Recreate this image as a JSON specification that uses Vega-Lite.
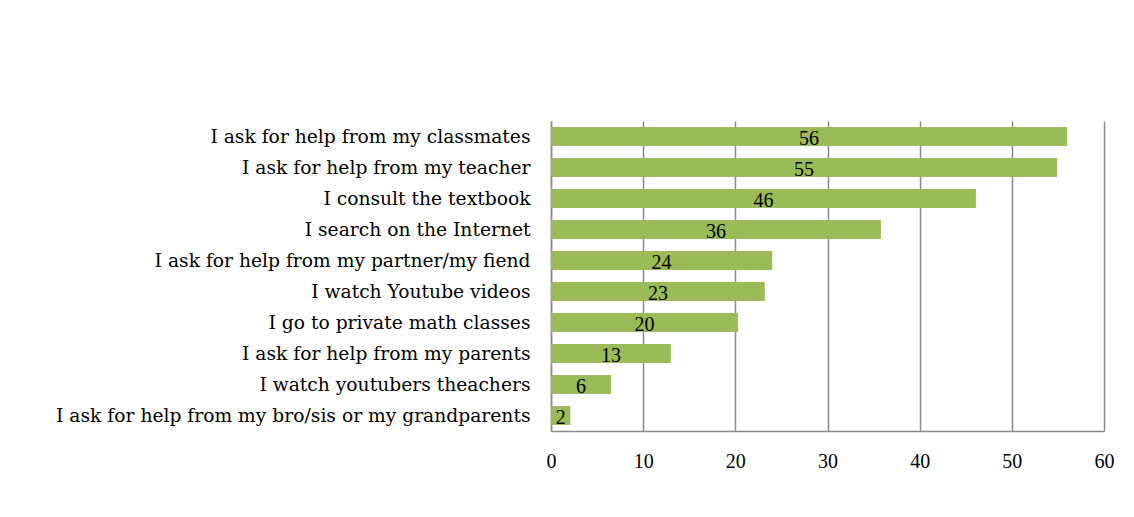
{
  "$schema": "https://vega.github.io/schema/vega-lite/v6.json",
  "autosize": {"type": "none"},
  "padding": {"left": 551, "top": 121, "right": 30, "bottom": 86},
  "width": 553,
  "height": 310,
  "background": "white",
  "config": {
    "view": {"stroke": null},
    "font": "DejaVu Serif"
  },
  "data": {
    "values": [
      {"item": "I ask for help from my classmates", "value": 56.0, "label": "56"},
      {"item": "I ask for help from my teacher", "value": 54.9, "label": "55"},
      {"item": "I consult the textbook", "value": 46.1, "label": "46"},
      {"item": "I search on the Internet", "value": 35.8, "label": "36"},
      {"item": "I ask for help from my partner/my fiend", "value": 24.0, "label": "24"},
      {"item": "I watch Youtube videos", "value": 23.2, "label": "23"},
      {"item": "I go to private math classes", "value": 20.3, "label": "20"},
      {"item": "I ask for help from my parents", "value": 13.0, "label": "13"},
      {"item": "I watch youtubers theachers", "value": 6.5, "label": "6"},
      {"item": "I ask for help from my bro/sis or my grandparents", "value": 2.1, "label": "2"}
    ]
  },
  "encoding": {
    "y": {
      "field": "item",
      "type": "nominal",
      "sort": null,
      "scale": {"paddingInner": 0.39, "paddingOuter": 0.195},
      "axis": {
        "title": null,
        "ticks": false,
        "domain": true,
        "domainColor": "#8a8a8a",
        "domainWidth": 1.5,
        "labelFont": "DejaVu Serif",
        "labelFontSize": 18.7,
        "labelColor": "#000000",
        "labelPadding": 21,
        "labelLimit": 600
      }
    }
  },
  "layer": [
    {
      "mark": {"type": "bar", "color": "#9BBB59"},
      "encoding": {
        "x": {
          "field": "value",
          "type": "quantitative",
          "scale": {"domain": [0, 60], "nice": false},
          "axis": {
            "title": null,
            "values": [0, 10, 20, 30, 40, 50, 60],
            "ticks": false,
            "grid": true,
            "gridColor": "#8a8a8a",
            "gridWidth": 1.5,
            "domain": true,
            "domainColor": "#8a8a8a",
            "domainWidth": 1.5,
            "labelFont": "Liberation Serif",
            "labelFontSize": 20,
            "labelColor": "#000000",
            "labelPadding": 20,
            "labelFlush": false
          }
        }
      }
    },
    {
      "transform": [{"calculate": "datum.value / 2", "as": "mid"}],
      "mark": {"type": "text", "font": "Liberation Serif", "fontSize": 20, "color": "#000000", "baseline": "middle", "dy": 2},
      "encoding": {
        "x": {"field": "mid", "type": "quantitative"},
        "text": {"field": "label"}
      }
    }
  ]
}
